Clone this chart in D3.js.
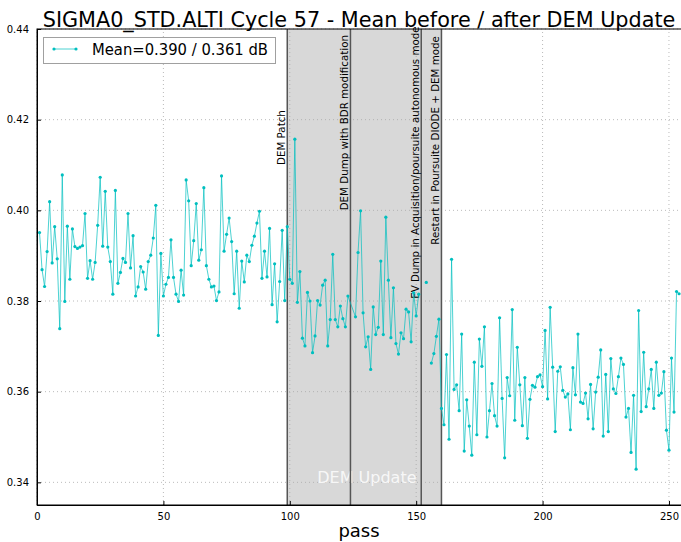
<!DOCTYPE html>
<html>
<head>
<meta charset="utf-8">
<script src="https://d3js.org/d3.v7.min.js"></script>
<style>
  body { margin: 0; background: #fff; }
  text { font-family: "DejaVu Sans", sans-serif; }
</style>
</head>
<body>
<svg id="chart"></svg>
<script>
// passes 124-125 are absent, 152/153/155 are gaps (null)
const passes = [...d3.range(1, 124), ...d3.range(126, 152), 152, 153, 154, 155, ...d3.range(156, 255)];

const sigma0Mean = [
  0.3951, 0.3869, 0.3832, 0.3909, 0.4019, 0.3884, 0.3964, 0.3893, 0.3739, 0.4078,
  0.3799, 0.3965, 0.3848, 0.3959, 0.3920, 0.3916, 0.3919, 0.3922, 0.3993, 0.3850,
  0.3889, 0.3848, 0.3885, 0.3967, 0.4073, 0.3921, 0.4042, 0.3919, 0.3887, 0.3815,
  0.4044, 0.3839, 0.3863, 0.3894, 0.3885, 0.3993, 0.3873, 0.3944, 0.3811, 0.3831,
  0.3876, 0.3864, 0.3826, 0.3887, 0.3901, 0.3939, 0.4011, 0.3724, 0.3905, 0.3811,
  0.3837, 0.3852, 0.3935, 0.3852, 0.3815, 0.3799, 0.3868, 0.3813, 0.4067, 0.4021,
  0.3878, 0.3933, 0.4015, 0.3890, 0.3913, 0.4050, 0.3878, 0.3848, 0.3831, 0.3833,
  0.3801, 0.3820, 0.4076, 0.3910, 0.3947, 0.3983, 0.3931, 0.3816, 0.3910, 0.3784,
  0.3888, 0.3842, 0.3901, 0.3887, 0.3923, 0.3943, 0.3972, 0.3998, 0.3850, 0.3910,
  0.3853, 0.3960, 0.3792, 0.3882, 0.3754, 0.3843, 0.3956, 0.3801, 0.3964, 0.3848,
  0.3839, 0.4157, 0.3797, 0.3865, 0.3718, 0.3701, 0.3819, 0.3800, 0.3686, 0.3723,
  0.3801, 0.3791, 0.3835, 0.3846, 0.3701, 0.3759, 0.3903, 0.3759, 0.3743, 0.3789,
  0.3761, 0.3743, 0.3811,
  0.3765, 0.3907, 0.3999, 0.3774, 0.3699, 0.3721, 0.3649, 0.3787, 0.3726, 0.3742,
  0.3888, 0.3726, 0.3985, 0.3846, 0.3719, 0.3829, 0.3706, 0.3683, 0.3730, 0.3717,
  0.3782, 0.3776, 0.3710, 0.3818, 0.3767, 0.3815,
  null, null, 0.3841, null,
  0.3663, 0.3684, 0.3722, 0.3760, 0.3563, 0.3527, 0.3682, 0.3495, 0.3892, 0.3605,
  0.3615, 0.3558, 0.3727, 0.3469, 0.3582, 0.3524, 0.3460, 0.3665, 0.3505, 0.3716,
  0.3656, 0.3743, 0.3500, 0.3558, 0.3618, 0.3547, 0.3524, 0.3763, 0.3585, 0.3454,
  0.3631, 0.3591, 0.3781, 0.3537, 0.3698, 0.3615, 0.3525, 0.3631, 0.3497, 0.3583,
  0.3614, 0.3610, 0.3633, 0.3637, 0.3611, 0.3735, 0.3584, 0.3786, 0.3654, 0.3512,
  0.3645, 0.3655, 0.3603, 0.3588, 0.3595, 0.3516, 0.3653, 0.3593, 0.3727, 0.3577,
  0.3574, 0.3597, 0.3540, 0.3616, 0.3518, 0.3599, 0.3632, 0.3692, 0.3502, 0.3638,
  0.3512, 0.3673, 0.3606, 0.3596, 0.3633, 0.3674, 0.3660, 0.3544, 0.3563, 0.3466,
  0.3592, 0.3429, 0.3779, 0.3556, 0.3687, 0.3567, 0.3606, 0.3649, 0.3563, 0.3665,
  0.3592, 0.3597, 0.3644, 0.3515, 0.3471, 0.3674, 0.3555, 0.3821, 0.3816
];

const eventPasses = [99, 124, 152, 160];
const eventLabels = [
  "DEM Patch",
  "DEM Dump with BDR modification",
  "EV Dump in Acquisition/poursuite autonomous mode",
  "Restart in Poursuite DIODE + DEM mode"
];
const eventLabelY = [0.410, 0.400, 0.3805, 0.3924];
const updateSpan = [99, 160];

const xTicks = [0, 50, 100, 150, 200, 250];
const yTicks = [0.34, 0.36, 0.38, 0.40, 0.42, 0.44];
const titleText = "SIGMA0_STD.ALTI Cycle 57 - Mean before / after DEM Update";
const legendText = "Mean=0.390 / 0.361 dB";

const W = 681, H = 542;
const margin = {top: 29, right: 0, bottom: 37, left: 37};
const COLOR = "#00bfbf";

const svg = d3.select("#chart").attr("width", W).attr("height", H);

const x = d3.scaleLinear().domain([0, 255]).range([margin.left, 681.6]);
const y = d3.scaleLinear().domain([0.335, 0.44]).range([H - margin.bottom, margin.top]);

const data = passes.map((p, i) => ({pass: p, v: sigma0Mean[i]}));

// shaded DEM update span
svg.append("rect")
    .attr("x", x(updateSpan[0]))
    .attr("y", y(0.44))
    .attr("width", x(updateSpan[1]) - x(updateSpan[0]))
    .attr("height", y(0.335) - y(0.44))
    .attr("fill", "#d8d8d8");

// grid
const grid = svg.append("g").attr("stroke", "#a8a8a8").attr("stroke-width", 0.8)
    .attr("stroke-dasharray", "1,3");
grid.selectAll(".gx").data(xTicks).join("line")
    .attr("x1", d => x(d)).attr("x2", d => x(d))
    .attr("y1", y(0.335)).attr("y2", y(0.44));
grid.selectAll(".gy").data(yTicks).join("line")
    .attr("x1", x(0)).attr("x2", W)
    .attr("y1", d => y(d)).attr("y2", d => y(d));

svg.append("text")
    .attr("x", x(130.5)).attr("y", y(0.3398))
    .attr("text-anchor", "middle")
    .attr("font-size", 16)
    .attr("fill", "#f7f7f7")
    .text("DEM Update");

// event lines
svg.selectAll(".ev").data(eventPasses).join("line")
    .attr("x1", d => x(d)).attr("x2", d => x(d))
    .attr("y1", y(0.335)).attr("y2", y(0.44))
    .attr("stroke", "#555").attr("stroke-width", 1.5);

svg.selectAll(".evlabel").data(eventPasses).join("text")
    .attr("transform", (d, i) => `translate(${x(d) - 2},${y(eventLabelY[i])}) rotate(-90)`)
    .attr("font-size", 10.3)
    .attr("fill", "#000")
    .text((d, i) => eventLabels[i]);

// series
const line = d3.line()
    .defined(d => d.v !== null)
    .x(d => x(d.pass))
    .y(d => y(d.v));

svg.append("path")
    .datum(data)
    .attr("d", line)
    .attr("fill", "none")
    .attr("stroke", COLOR)
    .attr("stroke-opacity", 0.7)
    .attr("stroke-width", 1);

svg.selectAll(".pt").data(data.filter(d => d.v !== null)).join("circle")
    .attr("cx", d => x(d.pass))
    .attr("cy", d => y(d.v))
    .attr("r", 1.6)
    .attr("fill", COLOR);

// axes
const xAxis = svg.append("g")
    .attr("transform", `translate(0,${H - margin.bottom})`)
    .call(d3.axisBottom(x).tickValues(xTicks).tickSize(-4).tickPadding(8));
const yAxis = svg.append("g")
    .attr("transform", `translate(${margin.left},0)`)
    .call(d3.axisLeft(y).tickValues(yTicks).tickFormat(d3.format(".2f")).tickSize(-4).tickPadding(8));
[xAxis, yAxis].forEach(a => {
  a.select(".domain").attr("stroke", "#000");
  a.selectAll("text").attr("font-size", 10).attr("font-family", "DejaVu Sans").attr("fill", "#000");
});

// frame
svg.append("rect")
    .attr("x", margin.left).attr("y", margin.top)
    .attr("width", x(255) - margin.left).attr("height", y(0.335) - margin.top)
    .attr("fill", "none").attr("stroke", "#000").attr("stroke-width", 1);

// legend
const lg = svg.append("g");
lg.append("rect")
    .attr("x", 43.5).attr("y", 37.5).attr("width", 232).attr("height", 26)
    .attr("fill", "#fff").attr("stroke", "#a0a0a0");
lg.append("line")
    .attr("x1", 54).attr("x2", 76).attr("y1", 49).attr("y2", 49)
    .attr("stroke", COLOR).attr("stroke-opacity", 0.7);
lg.selectAll("circle").data([54, 76]).join("circle")
    .attr("cx", d => d).attr("cy", 49).attr("r", 1.6).attr("fill", COLOR);
lg.append("text")
    .attr("x", 92).attr("y", 55)
    .attr("font-size", 15.5)
    .attr("textLength", 176).attr("lengthAdjust", "spacingAndGlyphs")
    .text(legendText);

// title squeezed horizontally to the reference width
const title = svg.append("text")
    .attr("text-anchor", "middle")
    .attr("font-size", 22)
    .text(titleText);
const sx = 633 / title.node().getComputedTextLength();
title.attr("transform", `translate(359,27) scale(${sx},1)`);

svg.append("text")
    .attr("x", 359).attr("y", 537)
    .attr("text-anchor", "middle")
    .attr("font-size", 18)
    .text("pass");
</script>
</body>
</html>
